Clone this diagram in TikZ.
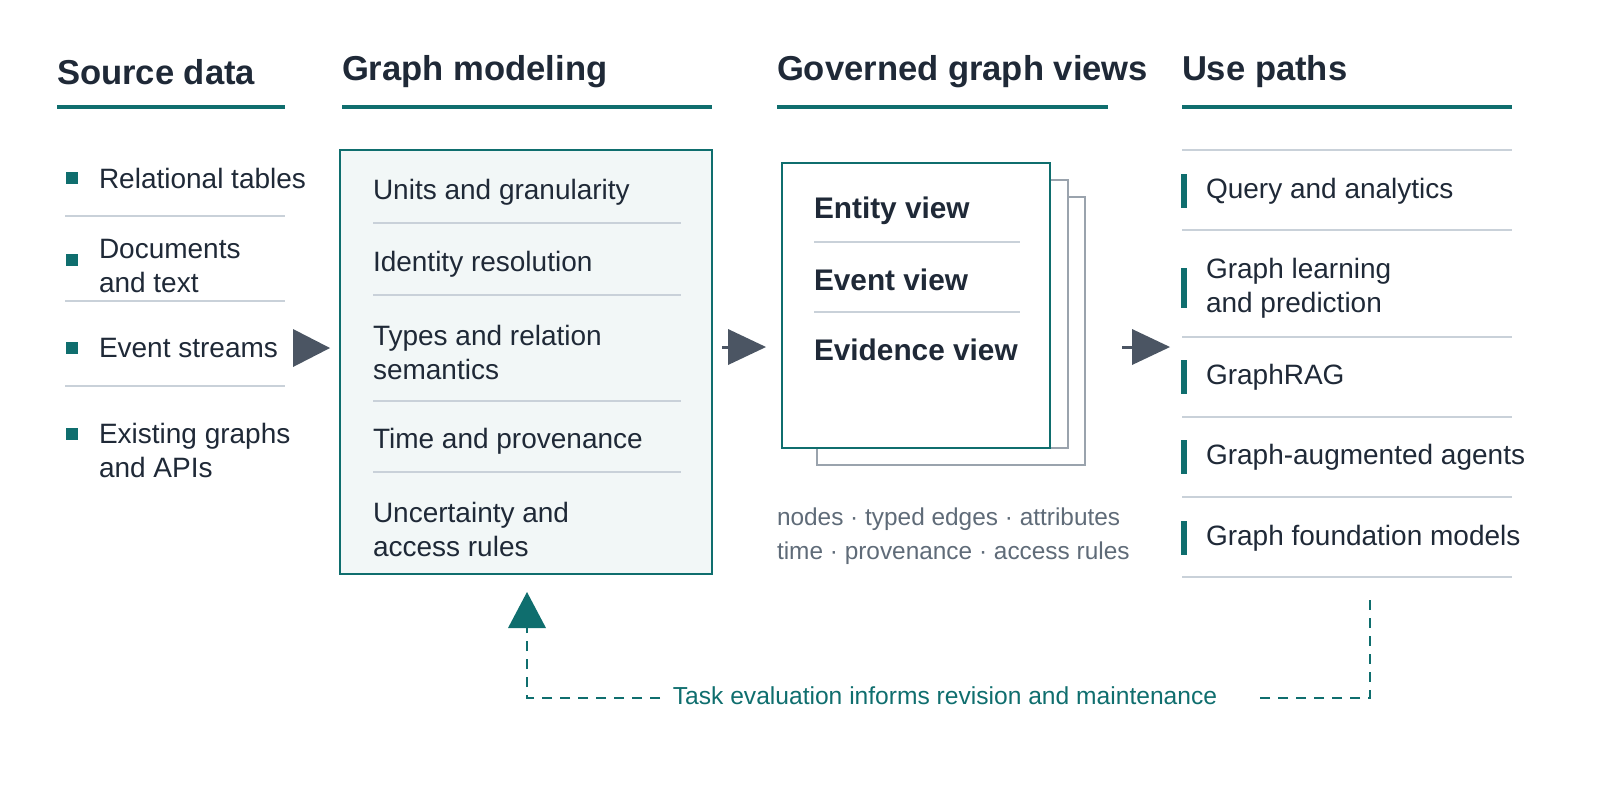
\documentclass[tikz,border=0pt]{standalone}
\usepackage{fontspec}
\setmainfont{Liberation Sans}
\begin{document}
\begin{tikzpicture}[x=0.5pt,y=-0.5pt,
  every node/.style={inner sep=0pt,outer sep=0pt},
  head/.style={anchor=west,font=\bfseries\fontsize{17.3}{20}\selectfont,text=ink},
  txt/.style={anchor=west,font=\fontsize{14}{17}\selectfont,text=ink,align=left},
  btxt/.style={anchor=west,font=\bfseries\fontsize{14.9}{17}\selectfont,text=ink},
  small/.style={anchor=west,font=\fontsize{12.2}{17}\selectfont,text=cap},
  rule/.style={teal0,line width=2pt},
  sep/.style={rulegray,line width=0.8pt},
  fb/.style={teal0,line width=1pt,dash pattern=on 5pt off 4pt}]
\definecolor{teal0}{HTML}{0F6E6E}
\definecolor{ink}{HTML}{1F2937}
\definecolor{cap}{HTML}{5F6B78}
\definecolor{rulegray}{HTML}{C9D1D9}
\definecolor{arrowg}{HTML}{4B5563}
\definecolor{boxfill}{HTML}{F2F7F7}
\definecolor{stackg}{HTML}{9AA3AD}
\useasboundingbox (0,0) rectangle (1600,800);
% headings
\node[head] (h1) at (57,72) {Source data};
\node[head] (h2) at (342,72) {Graph modeling};
\node[head] (h3) at (777,72) {Governed graph views};
\node[head] (h4) at (1182,72) {Use paths};
\draw[rule] (57,107) -- (285,107);
\draw[rule] (342,107) -- (712,107);
\draw[rule] (777,107) -- (1108,107);
\draw[rule] (1182,107) -- (1512,107);
% source data
\foreach \y/\sy/\t [count=\i] in {178/178/Relational tables,266/260/{Documents\\and text},348/348/Event streams,450/434/{Existing graphs\\and APIs}}{
  \fill[teal0] (66,\sy-6) rectangle (78,\sy+6);
  \node[txt] (s\i) at (99,\y) {\t};
}
\foreach \y in {216,301,386}{\draw[sep] (65,\y) -- (285,\y);}
% modeling box
\node[draw=teal0,fill=boxfill,line width=1.2pt,minimum width=186pt,minimum height=212pt,anchor=north west] (mb) at (340,150) {};
\node[txt] (m1) at (373,192) {Units and granularity};
\node[txt] (m2) at (373,264) {Identity resolution};
\node[txt] (m3) at (373,352) {Types and relation\\semantics};
\node[txt] (m4) at (373,441) {Time and provenance};
\node[txt] (m5) at (373,529) {Uncertainty and\\access rules};
\foreach \y in {223,295,401,472}{\draw[sep] (373,\y) -- (681,\y);}
% arrows
\fill[arrowg] (293,329) -- (330,348) -- (293,367) -- cycle;
\draw[arrowg,line width=1.5pt] (722,347) -- (742,347);
\fill[arrowg] (728,329) -- (766,347) -- (728,365) -- cycle;
\draw[arrowg,line width=1.5pt] (1122,347) -- (1140,347);
\fill[arrowg] (1132,329) -- (1170,347) -- (1132,365) -- cycle;
% stacked views
\draw[stackg,fill=white,line width=1pt] (817,197) rectangle (1085,465);
\draw[stackg,fill=white,line width=1pt] (800,180) rectangle (1068,448);
\node[draw=teal0,fill=white,line width=1.2pt,minimum width=134pt,minimum height=142.5pt,anchor=north west] (vb) at (782,163) {};
\node[btxt] (v1) at (814,211) {Entity view};
\node[btxt] (v2) at (814,280) {Event view};
\node[btxt] (v3) at (814,350) {Evidence view};
\draw[sep] (814,242) -- (1020,242);
\draw[sep] (814,312) -- (1020,312);
\node[small] (c1) at (777,519) {nodes · typed edges · attributes};
\node[small] (c2) at (777,553) {time · provenance · access rules};
% use paths
\foreach \y in {150,230,337,417,497,577}{\draw[sep] (1182,\y) -- (1512,\y);}
\foreach \y/\h/\t [count=\i] in {191/17/Query and analytics,288/20/{Graph learning\\and prediction},377/17/GraphRAG,457/17/Graph-augmented agents,538/17/Graph foundation models}{
  \fill[teal0] (1181,\y-\h) rectangle (1187,\y+\h);
  \node[txt] (u\i) at (1206,\y) {\t};
}
% feedback
\node[anchor=center,font=\fontsize{12.3}{14}\selectfont,text=teal0] (fbt) at (945,696) {Task evaluation informs revision and maintenance};
\coordinate (fa) at (1370,600);
\coordinate (fb1) at (1370,698);
\coordinate (fb2) at (1258,698);
\coordinate (fc1) at (660,698);
\coordinate (fc2) at (527,698);
\coordinate (fd) at (527,628);
\draw[fb] (fa) -- (fb1) -- (fb2);
\draw[fb] (fc1) -- (fc2) -- (fd);
\fill[teal0] (508,628) -- (527,592) -- (546,628) -- cycle;
\end{tikzpicture}
\end{document}
